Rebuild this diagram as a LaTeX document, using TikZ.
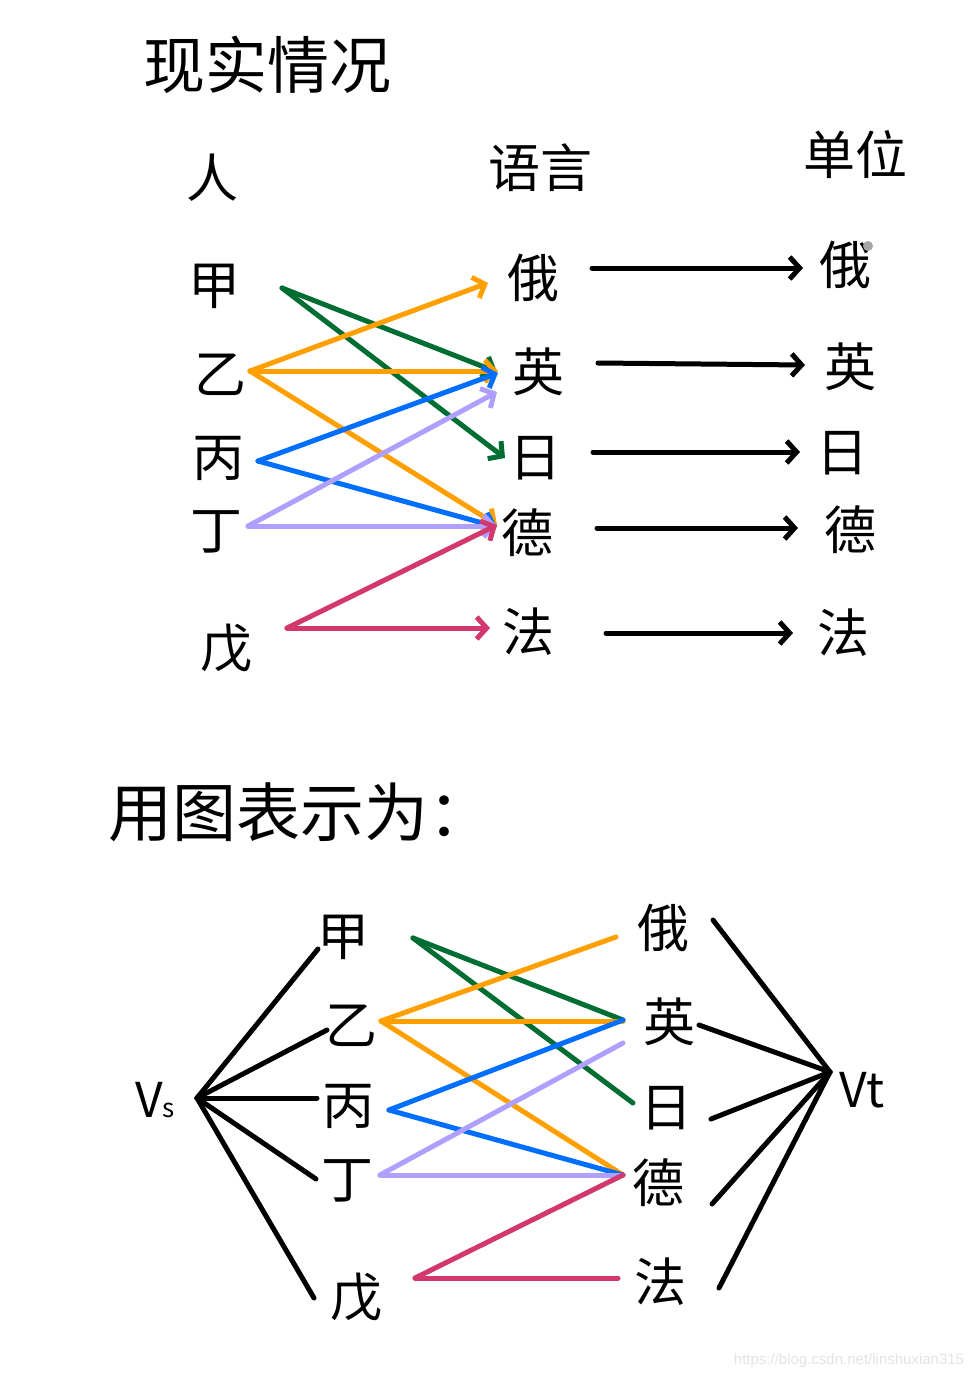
\documentclass[tikz,border=0pt]{standalone}
\usepackage{fontspec}
\newfontfamily\cjk{Noto Sans CJK SC}
\newfontfamily\wmfont{Liberation Sans}
\usetikzlibrary{arrows.meta}
\definecolor{cgreen}{HTML}{006E32}
\definecolor{corange}{HTML}{FFA000}
\definecolor{cblue}{HTML}{006EFF}
\definecolor{clav}{HTML}{AFA0FF}
\definecolor{ccrim}{HTML}{D2376E}
\definecolor{wmgray}{HTML}{E4E4E4}
\tikzset{
  ch/.style={inner sep=0pt, font=\cjk\fontsize{52}{52}\selectfont},
  title/.style={inner sep=0pt, font=\cjk\fontsize{62}{62}\selectfont},
  lnk/.style={line width=5pt, line cap=round, line join=round},
  arr/.style={lnk, -{Straight Barb[length=10pt,width=22pt]}},
  blk/.style={lnk, black},
}
\newcommand{\at}[3]{([shift={(#1,#2)}]#3.center)}
\begin{document}
\begin{tikzpicture}[x=1pt,y=-1pt]
\fill[white] (0,0) rectangle (980,1379);
\useasboundingbox (0,0) rectangle (980,1379);

% ---------- top section ----------
\node[title] (t1) at (267,65) {现实情况};
\node[ch] (hp) at (212,178) {人};
\node[ch] (hl) at (540,168) {语言};
\node[ch] (hu) at (855,155) {单位};

\node[ch] (pA) at (214,286) {甲};
\node[ch] (pB) at (220,375) {乙};
\node[ch] (pC) at (218,458) {丙};
\node[ch] (pD) at (216,532) {丁};
\node[ch] (pE) at (226,648) {戊};

\node[ch] (lA) at (533,278) {俄};
\node[ch] (lB) at (538,372) {英};
\node[ch] (lC) at (535,458) {日};
\node[ch] (lD) at (527,533) {德};
\node[ch] (lE) at (528,632) {法};

\node[ch] (uA) at (845,265) {俄};
\node[ch] (uB) at (850,367) {英};
\node[ch] (uC) at (842,453) {日};
\node[ch] (uD) at (850,530) {德};
\node[ch] (uE) at (843,633) {法};
\fill[gray!70] (868,246) circle (5);

% colored arrows
\draw[arr, cgreen] \at{68}{2}{pA} -- \at{-41}{0}{lB};
\draw[arr, cgreen] \at{68}{2}{pA} -- \at{-30}{0}{lC};
\draw[arr, corange] \at{30}{-4}{pB} -- \at{-45}{5}{lA};
\draw[arr, corange] \at{30}{-4}{pB} -- \at{-40}{-1}{lB};
\draw[arr, corange] \at{30}{-4}{pB} -- \at{-30}{-8}{lD};
\draw[arr, cblue] \at{40}{3}{pC} -- \at{-40}{1}{lB};
\draw[arr, cblue] \at{40}{3}{pC} -- \at{-30}{-6}{lD};
\draw[arr, clav] \at{32}{-6}{pD} -- \at{-41}{20}{lB};
\draw[arr, clav] \at{32}{-6}{pD} -- \at{-30}{-7}{lD};
\draw[arr, ccrim] \at{61}{-20}{pE} -- \at{-30}{-8}{lD};
\draw[arr, ccrim] \at{61}{-20}{pE} -- \at{-38}{-4}{lE};

% black arrows
\draw[arr, black] \at{59}{-10}{lA} -- \at{-42}{3}{uA};
\draw[arr, black] \at{60}{-9}{lB} -- \at{-45}{-2}{uB};
\draw[arr, black] \at{58}{-6}{lC} -- \at{-42}{-1}{uC};
\draw[arr, black] \at{70}{-5}{lD} -- \at{-52}{-2}{uD};
\draw[arr, black] \at{78}{1}{lE} -- \at{-50}{0}{uE};

% ---------- bottom section ----------
\node[title, font=\cjk\fontsize{64}{64}\selectfont] (t2) at (300,812) {用图表示为：};

\node[inner sep=0pt, font=\cjk\fontsize{48}{48}\selectfont] (vs) at (155,1100) {V{\fontsize{26}{26}\selectfont s}};
\node[inner sep=0pt, font=\cjk\fontsize{48}{48}\selectfont] (vt) at (862,1090) {Vt};

\node[ch] (bA) at (343,937) {甲};
\node[ch] (bB) at (351,1026) {乙};
\node[ch] (bC) at (348,1106) {丙};
\node[ch] (bD) at (347,1181) {丁};
\node[ch] (bE) at (356,1297) {戊};

\node[ch] (cA) at (663,928) {俄};
\node[ch] (cB) at (669,1022) {英};
\node[ch] (cC) at (666,1108) {日};
\node[ch] (cD) at (658,1183) {德};
\node[ch] (cE) at (660,1282) {法};

% source edges
\draw[blk] \at{42}{-2}{vs} -- \at{-25}{12}{bA};
\draw[blk] \at{42}{-2}{vs} -- \at{-24}{4}{bB};
\draw[blk] \at{42}{-2}{vs} -- \at{-31}{-8}{bC};
\draw[blk] \at{42}{-2}{vs} -- \at{-31}{-2}{bD};
\draw[blk] \at{42}{-2}{vs} -- \at{-42}{1}{bE};

% sink edges
\draw[blk] \at{50}{-8}{cA} -- \at{-32}{-18}{vt};
\draw[blk] \at{30}{3}{cB} -- \at{-32}{-18}{vt};
\draw[blk] \at{45}{11}{cC} -- \at{-32}{-18}{vt};
\draw[blk] \at{54}{21}{cD} -- \at{-32}{-18}{vt};
\draw[blk] \at{59}{6}{cE} -- \at{-32}{-18}{vt};

% colored edges
\draw[lnk, cgreen] \at{70}{1}{bA} -- \at{-46}{-2}{cB};
\draw[lnk, cgreen] \at{70}{1}{bA} -- \at{-33}{-5}{cC};
\draw[lnk, corange] \at{30}{-5}{bB} -- \at{-47}{9}{cA};
\draw[lnk, corange] \at{30}{-5}{bB} -- \at{-46}{-1}{cB};
\draw[lnk, corange] \at{30}{-5}{bB} -- \at{-35}{-8}{cD};
\draw[lnk, cblue] \at{41}{4}{bC} -- \at{-46}{-2}{cB};
\draw[lnk, cblue] \at{41}{4}{bC} -- \at{-35}{-8}{cD};
\draw[lnk, clav] \at{33}{-6}{bD} -- \at{-46}{21}{cB};
\draw[lnk, clav] \at{33}{-6}{bD} -- \at{-35}{-8}{cD};
\draw[lnk, ccrim] \at{59}{-19}{bE} -- \at{-35}{-8}{cD};
\draw[lnk, ccrim] \at{59}{-19}{bE} -- \at{-42}{-4}{cE};

% watermark
\node[inner sep=0pt, text=wmgray, font=\wmfont\fontsize{15}{15}\selectfont] (wm) at (849,1361) {https://blog.csdn.net/linshuxian315};
\end{tikzpicture}
\end{document}
